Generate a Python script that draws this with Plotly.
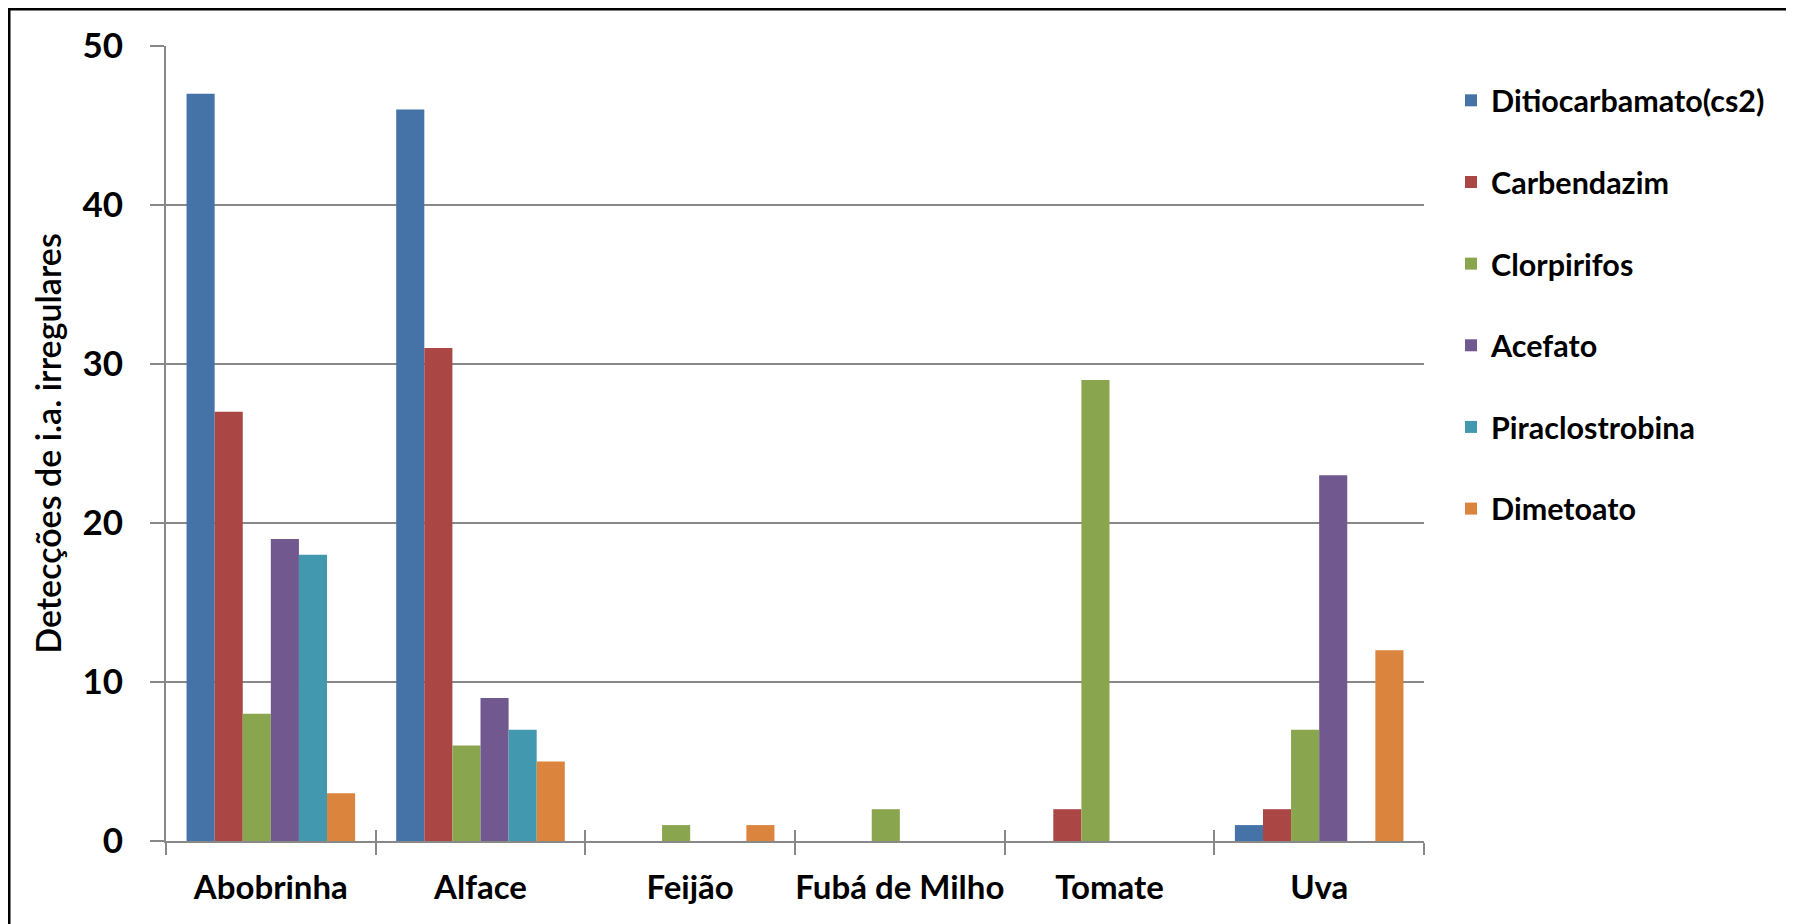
import plotly.graph_objects as go

ALIMENTOS = ['Abobrinha', 'Alface', 'Feijão', 'Fubá de Milho', 'Tomate', 'Uva']

DITIOCARBAMATO = [47, 46, 0, 0, 0, 1]
CARBENDAZIM = [27, 31, 0, 0, 2, 2]
CLORPIRIFOS = [8, 6, 1, 2, 29, 7]
ACEFATO = [19, 9, 0, 0, 0, 23]
PIRACLOSTROBINA = [18, 7, 0, 0, 0, 0]
DIMETOATO = [3, 5, 1, 0, 0, 12]

SERIES = [
    ('Ditiocarbamato(cs2)', DITIOCARBAMATO, '#4572A7'),
    ('Carbendazim', CARBENDAZIM, '#AA4643'),
    ('Clorpirifos', CLORPIRIFOS, '#89A54E'),
    ('Acefato', ACEFATO, '#71588F'),
    ('Piraclostrobina', PIRACLOSTROBINA, '#4198AF'),
    ('Dimetoato', DIMETOATO, '#DB843D'),
]

# a pagina tem 8px de margem no body
OFF = 8
W, H = 1794 - OFF, 924 - OFF
L, T = 166 - OFF, 46 - OFF
PW, PH = 1258, 795
R, B = W - L - PW, H - T - PH
GRID = '#888888'
FONT = 'Lato'

def px_x(p):
    return (p - OFF - L) / PW

def px_y(p):
    return (T + PH - (p - OFF)) / PH

fig = go.Figure()
for nome, valores, cor in SERIES:
    fig.add_trace(go.Bar(x=ALIMENTOS, y=valores, name=nome, legendgroup=nome,
                         marker=dict(color=cor, line=dict(width=0))))

limites = [i - 0.5 for i in range(len(ALIMENTOS) + 1)]

fig.update_layout(
    width=W, height=H,
    margin=dict(l=L, r=R, t=T, b=B, autoexpand=False),
    paper_bgcolor='white', plot_bgcolor='white',
    barmode='group', bargap=0.196, bargroupgap=0,
    font=dict(family=FONT, color='black'),
    xaxis=dict(type='category', range=[-0.5, len(ALIMENTOS) - 0.5], automargin=False,
               showline=True, linecolor=GRID, linewidth=2, tickangle=0,
               ticks='outside', tickson='boundaries', ticklen=12, tickcolor=GRID, tickwidth=1.5,
               tickfont=dict(size=33, family=FONT, weight='bold'),
               ticklabelstandoff=16, showgrid=False),
    xaxis2=dict(overlaying='x', anchor='y', range=[-0.5, len(ALIMENTOS) - 0.5],
                tickmode='array', tickvals=limites, ticks='inside', ticklen=11,
                tickcolor=GRID, tickwidth=1.5, showticklabels=False,
                showgrid=False, zeroline=False, showline=False),
    yaxis=dict(range=[0, 50], dtick=10, showgrid=True, gridcolor=GRID, gridwidth=1.5,
               zeroline=False, showline=True, linecolor=GRID, linewidth=2, automargin=False,
               ticks='outside', ticklen=14, tickcolor=GRID, tickwidth=1.5,
               tickfont=dict(size=35, family=FONT, weight='bold'),
               ticklabelstandoff=20,
               title=dict(text='Detecções de i.a. irregulares',
                          font=dict(size=34, family=FONT, weight=600), standoff=10)),
    legend=dict(x=px_x(1451), xanchor='left', y=px_y(74), yanchor='top',
                font=dict(size=30.5, family=FONT, weight='bold'),
                traceorder='grouped', tracegroupgap=39, bgcolor='rgba(0,0,0,0)'),
    shapes=[
        dict(type='line', xref='paper', yref='paper', x0=px_x(OFF), x1=px_x(1794), y0=px_y(OFF + 1),
             y1=px_y(OFF + 1), line=dict(color='black', width=3)),
        dict(type='line', xref='paper', yref='paper', x0=px_x(OFF + 1), x1=px_x(OFF + 1), y0=px_y(OFF),
             y1=px_y(924), line=dict(color='black', width=3)),
    ],
)

# eixo auxiliar so para os riscos acima do eixo x
fig.add_trace(go.Scatter(x=[None], y=[None], xaxis='x2', showlegend=False, hoverinfo='skip'))

fig.write_html("out.html")
